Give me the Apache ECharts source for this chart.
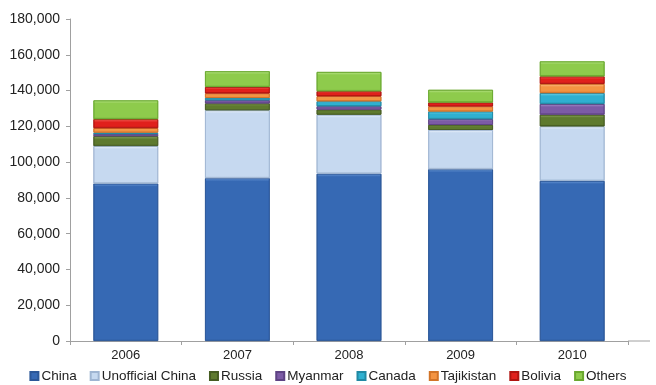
<!DOCTYPE html>
<html>
<head>
<meta charset="utf-8">
<script src="https://cdn.jsdelivr.net/npm/echarts@6/dist/echarts.min.js"></script>
<style>
  html, body { margin: 0; padding: 0; background: #ffffff; }
  #chart { width: 656px; height: 385px; }
</style>
</head>
<body>
<div id="chart"></div>
<script>
// Production by source, tonnes, 2006–2010
const years = ['2006', '2007', '2008', '2009', '2010'];
const china           = [88000, 91000, 93500, 96000, 89500];
const unofficialChina = [21000, 38000, 33000, 22000, 30500];
const russia          = [5500, 3800, 2800, 2800, 6500];
const myanmar         = [1200, 1800, 1900, 3200, 6000];
const canada          = [800, 1300, 2800, 4300, 6100];
const tajikistan      = [2500, 2500, 2800, 2800, 5100];
const bolivia         = [5000, 3600, 2800, 2200, 4200];
const others          = [10500, 8800, 10800, 7100, 8400];
const yTicks = [0, 20000, 40000, 60000, 80000, 100000, 120000, 140000, 160000, 180000];

const seriesDefs = [
  { name: 'China',            data: china,           base: '#3669b4', light: '#6c9ad8', dark: '#2b5798' },
  { name: 'Unofficial China', data: unofficialChina, base: '#c6d9f0', light: '#eef4fc', dark: '#9fb5d2' },
  { name: 'Russia',           data: russia,          base: '#5e7a2e', light: '#93ad66', dark: '#465c22' },
  { name: 'Myanmar',          data: myanmar,         base: '#7c5ba6', light: '#a98fcc', dark: '#5e4384' },
  { name: 'Canada',           data: canada,          base: '#2fb0d0', light: '#72d3ea', dark: '#2189a4' },
  { name: 'Tajikistan',       data: tajikistan,      base: '#f49442', light: '#fbc08c', dark: '#d27428' },
  { name: 'Bolivia',          data: bolivia,         base: '#e0201c', light: '#f4665e', dark: '#b01410' },
  { name: 'Others',           data: others,          base: '#8ecb4c', light: '#bde68e', dark: '#6aa82f' }
];

const FONT = 'Liberation Sans, Arial, sans-serif';
const chart = echarts.init(document.getElementById('chart'), null, { renderer: 'canvas' });

chart.setOption({
  animation: false,
  backgroundColor: '#ffffff',
  grid: { left: 70, right: 28, top: 19, bottom: 44, containLabel: false },
  legend: {
    top: 364,
    left: 'center',
    itemWidth: 8,
    itemHeight: 8,
    itemGap: 13,
    icon: 'rect',
    textStyle: { fontFamily: FONT, fontSize: 13.5, color: '#222', padding: [0, 0, 0, -2] },
    data: seriesDefs.map(d => ({ name: d.name, itemStyle: { color: d.base } }))
  },
  xAxis: {
    type: 'category',
    data: years,
    axisLine: { lineStyle: { color: '#a0a0a0' } },
    axisTick: { show: true, alignWithLabel: false, length: 4, lineStyle: { color: '#a0a0a0' } },
    axisLabel: { fontFamily: FONT, fontSize: 13, color: '#222', margin: 8 }
  },
  yAxis: {
    type: 'value',
    min: yTicks[0],
    max: yTicks[yTicks.length - 1],
    interval: yTicks[1] - yTicks[0],
    axisLine: { show: true, lineStyle: { color: '#a0a0a0' } },
    axisTick: { show: true, length: 4, lineStyle: { color: '#a0a0a0' } },
    splitLine: { show: false },
    axisLabel: {
      fontFamily: FONT, fontSize: 14, color: '#222', margin: 10,
      formatter: v => v.toLocaleString('en-US')
    }
  },
  series: seriesDefs.map(d => ({
    name: d.name,
    type: 'bar',
    stack: 'total',
    barWidth: '58%',
    data: d.data,
    itemStyle: { color: d.base, borderColor: d.dark, borderWidth: 0.8 },
    emphasis: { disabled: true }
  }))
});

const grid = chart.getModel().getComponent('grid').coordinateSystem.getRect();
const pxPerUnit = grid.height / (yTicks[yTicks.length - 1] - yTicks[0]);

// Bevelled fill per segment: a ~3px light strip on top, ~2px darker strip at the bottom
function bevel(d, v) {
  const h = Math.max(v * pxPerUnit, 1);
  const t = Math.min(3 / h, 0.35);
  const b = Math.min(2 / h, 0.25);
  return {
    type: 'linear', x: 0, y: 0, x2: 0, y2: 1,
    colorStops: [
      { offset: 0, color: d.light },
      { offset: t, color: d.base },
      { offset: 1 - b, color: d.base },
      { offset: 1, color: d.dark }
    ]
  };
}

chart.setOption({
  series: seriesDefs.map(d => ({
    data: d.data.map(v => ({ value: v, itemStyle: { color: bevel(d, v) } }))
  })),
  // The category axis line runs on a little past the last category
  graphic: [{
    type: 'line',
    silent: true,
    shape: { x1: grid.x + grid.width, y1: grid.y + grid.height, x2: 650, y2: grid.y + grid.height },
    style: { stroke: '#a0a0a0', lineWidth: 1 }
  }]
});
</script>
</body>
</html>
